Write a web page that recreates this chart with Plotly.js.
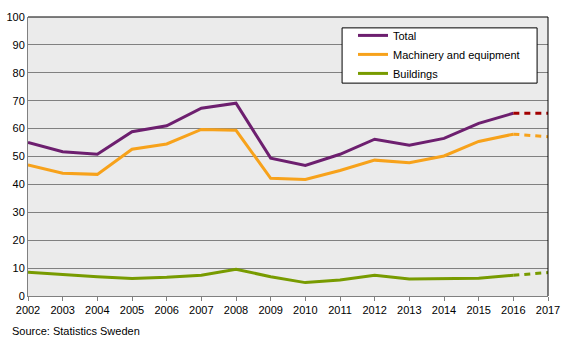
<!DOCTYPE html>
<html>
<head>
<meta charset="utf-8">
<script src="https://cdn.plot.ly/plotly-3.0.1.min.js"></script>
<style>html,body{margin:0;padding:0;background:#fff;}#chart{width:567px;height:340px;}</style>
</head>
<body>
<div id="chart"></div>
<script>
const years = [2002,2003,2004,2005,2006,2007,2008,2009,2010,2011,2012,2013,2014,2015,2016];
const forecastYears = [2016, 2017];
const total = [55.0,51.7,50.8,58.9,61.0,67.3,69.1,49.4,46.8,50.8,56.2,54.0,56.5,61.9,65.5];
const machinery = [47.0,44.0,43.6,52.6,54.5,59.7,59.4,42.2,41.8,45.0,48.7,47.8,50.2,55.4,58.0];
const buildings = [8.5,7.6,6.9,6.3,6.7,7.4,9.6,6.9,4.8,5.7,7.4,6.1,6.3,6.4,7.4];
const totalForecast = [65.5, 65.5];
const machineryForecast = [58.0, 57.1];
const buildingsForecast = [7.4, 8.4];
const yTicks = [0,10,20,30,40,50,60,70,80,90,100];
const xTicks = [2002,2003,2004,2005,2006,2007,2008,2009,2010,2011,2012,2013,2014,2015,2016,2017];

const cPurple = '#6d1f6f', cOrange = '#f7a21b', cGreen = '#789b00', cRed = '#a30000';

const traces = [
  {x: years, y: total, name: 'Total', mode: 'lines', line: {color: cPurple, width: 3}},
  {x: years, y: machinery, name: 'Machinery and equipment', mode: 'lines', line: {color: cOrange, width: 3}},
  {x: years, y: buildings, name: 'Buildings', mode: 'lines', line: {color: cGreen, width: 3}},
  {x: forecastYears, y: totalForecast, mode: 'lines', showlegend: false, line: {color: cRed, width: 3, dash: '6px,5px'}},
  {x: forecastYears, y: machineryForecast, mode: 'lines', showlegend: false, line: {color: cOrange, width: 3, dash: '6px,5px'}},
  {x: forecastYears, y: buildingsForecast, mode: 'lines', showlegend: false, line: {color: cGreen, width: 3, dash: '6px,5px'}}
];

const layout = {
  width: 567, height: 340,
  margin: {l: 28, r: 19, t: 17, b: 44},
  paper_bgcolor: '#ffffff',
  plot_bgcolor: '#ebebeb',
  font: {family: 'Liberation Sans, Arial, sans-serif', size: 11, color: '#000'},
  showlegend: true,
  legend: {
    x: 0.625, y: 0.986, xanchor: 'left', yanchor: 'top',
    bgcolor: 'rgba(0,0,0,0)', borderwidth: 0,
    font: {size: 11, color: '#000'},
    tracegroupgap: 0, itemwidth: 30
  },
  xaxis: {
    range: [2002, 2017], tickvals: xTicks, ticktext: xTicks.map(String),
    showgrid: false, zeroline: false,
    showline: true, linecolor: '#808080', linewidth: 1,
    ticks: 'outside', ticklen: 4, tickcolor: '#808080',
    tickfont: {size: 11, color: '#000'}, fixedrange: true
  },
  yaxis: {
    range: [0, 100], tickvals: yTicks,
    showgrid: true, gridcolor: '#808080', gridwidth: 1, zeroline: false,
    showline: true, linecolor: '#808080', linewidth: 1,
    ticks: '', tickfont: {size: 11, color: '#000'}, fixedrange: true
  },
  shapes: [
    {type: 'line', xref: 'paper', yref: 'paper', x0: 0, x1: 1, y0: 1, y1: 1, line: {color: '#000', width: 1}},
    {type: 'line', xref: 'paper', yref: 'paper', x0: 1, x1: 1, y0: 0, y1: 1, line: {color: '#000', width: 1}},
    {type: 'rect', xref: 'paper', yref: 'paper', x0: 0.604, x1: 0.979, y0: 0.763, y1: 0.961, layer: 'above', fillcolor: '#ffffff', line: {color: '#000', width: 1}}
  ],
  annotations: [
    {text: 'Source: Statistics Sweden', xref: 'paper', yref: 'paper', x: -0.035, y: -0.095, xanchor: 'left', yanchor: 'top', showarrow: false, font: {size: 11, color: '#000'}}
  ]
};

Plotly.newPlot('chart', traces, layout, {displayModeBar: false, staticPlot: true});
</script>
</body>
</html>
